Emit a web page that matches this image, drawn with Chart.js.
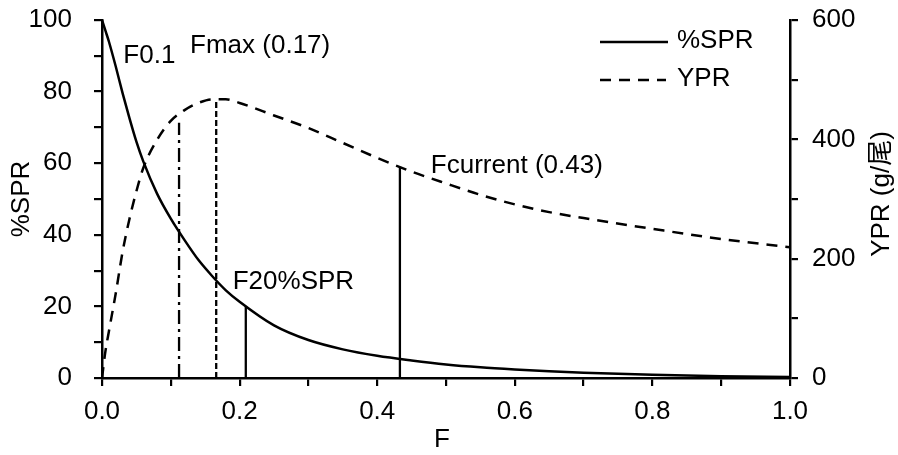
<!DOCTYPE html>
<html>
<head>
<meta charset="utf-8">
<script src="https://cdn.jsdelivr.net/npm/chart.js@4.4.1/dist/chart.umd.min.js"></script>
<style>body{margin:0;background:#fff}canvas{display:block}</style>
</head>
<body>
<canvas id="c" width="898" height="455"></canvas>
<script>
/* DATA */
const fishingF = [0, 0.005, 0.01, 0.02, 0.03, 0.04, 0.05, 0.06, 0.08, 0.10, 0.12, 0.14, 0.16, 0.18, 0.20, 0.25, 0.30, 0.35, 0.40, 0.45, 0.50, 0.55, 0.60, 0.65, 0.70, 0.80, 0.90, 1.00];
const sprValues = [100, 97, 94, 87, 79.5, 72.5, 66, 60.5, 51.5, 44.5, 38.5, 33, 28.5, 24.5, 21.3, 14.7, 10.6, 8.0, 6.2, 4.9, 3.8, 3.0, 2.4, 1.9, 1.5, 0.9, 0.5, 0.3];
const yprValues = [0, 45, 78, 142, 212, 267, 313, 352, 399, 431, 449, 461, 467, 467, 461, 440, 419, 394, 369, 346, 326, 307, 291, 278, 268, 250, 233, 219];

const refNames = ["F0.1", "Fmax", "F20%SPR", "Fcurrent"];
const refF = [0.112, 0.166, 0.209, 0.433];
const refTop = [428, 467, 20, 352];
const refAxis = ["y2", "y2", "y", "y2"];

const noteTexts = ["F0.1", "Fmax (0.17)", "F20%SPR", "Fcurrent (0.43)"];

const xTicks = [0, 0.2, 0.4, 0.6, 0.8, 1.0];
const sprTicks = [0, 20, 40, 60, 80, 100];
const yprTicks = [0, 200, 400, 600];

/* STYLE / PLACEMENT */
const FONT = "Liberation Sans, Arial, Noto Sans CJK SC, sans-serif";
const refDash = [[14, 5, 3, 5], [6, 3], [], []];
const notePos = [[0.031, 90], [0.128, 92.7], [0.19, 26.8], [0.478, 59.2]]; // F, %SPR

Chart.defaults.font.family = FONT;
Chart.defaults.font.size = 26;
Chart.defaults.color = "#000";

const has = (arr, v) => arr.some(t => Math.abs(t - v) < 1e-6);

const datasets = [
 {label: "%SPR", data: fishingF.map((f, i) => ({x: f, y: sprValues[i]})), yAxisID: "y",
  borderColor: "#000", borderWidth: 2.5, pointRadius: 0, cubicInterpolationMode: "monotone", fill: false},
 {label: "YPR", data: fishingF.map((f, i) => ({x: f, y: yprValues[i]})), yAxisID: "y2",
  borderColor: "#000", borderWidth: 2.5, borderDash: [11, 8], pointRadius: 0, cubicInterpolationMode: "monotone", fill: false}
];
refNames.forEach((n, i) => {
 datasets.push({label: n, data: [{x: refF[i], y: 0}, {x: refF[i], y: refTop[i]}], yAxisID: refAxis[i],
  borderColor: "#000", borderWidth: 2.3, borderDash: refDash[i], pointRadius: 0, fill: false});
});

const textPlugin = {
 id: "texts",
 afterDraw(chart) {
  const ctx = chart.ctx, sx = chart.scales.x, sy = chart.scales.y;
  ctx.save();
  ctx.fillStyle = "#000";
  ctx.font = "26px " + FONT;
  ctx.textBaseline = "middle";
  ctx.textAlign = "left";
  // annotations
  noteTexts.forEach((t, i) => {
   ctx.fillText(t, sx.getPixelForValue(notePos[i][0]), sy.getPixelForValue(notePos[i][1]));
  });
  // legend
  [datasets[0], datasets[1]].forEach((d, i) => {
   const y = i === 0 ? 42 : 80;
   ctx.beginPath();
   ctx.setLineDash(d.borderDash || []);
   ctx.lineWidth = 2.5;
   ctx.strokeStyle = "#000";
   ctx.moveTo(600, y);
   ctx.lineTo(i === 0 ? 668 : 666, y);
   ctx.stroke();
   ctx.setLineDash([]);
   ctx.fillText(d.label, 677, y - 1);
  });
  // axis titles
  const midY = (chart.chartArea.top + chart.chartArea.bottom) / 2;
  ctx.textAlign = "center";
  ctx.fillText("F", (chart.chartArea.left + chart.chartArea.right) / 2 - 4, 440);
  ctx.save();
  ctx.translate(22, midY);
  ctx.rotate(-Math.PI / 2);
  ctx.fillText("%SPR", 0, 0);
  ctx.restore();
  ctx.save();
  ctx.translate(882, midY - 5);
  ctx.rotate(-Math.PI / 2);
  ctx.fillText("YPR (g/尾)", 0, 0);
  ctx.restore();
  ctx.restore();
 }
};

const axisGrid = {drawOnChartArea: false, drawTicks: true, tickLength: 8, color: "#000", lineWidth: 2.2};
const axisBorder = {display: true, color: "#000", width: 2.5};
const fixY = w => s => { s.width = w; s.paddingTop = 0; s.paddingBottom = 0; };

new Chart(document.getElementById("c"), {
 type: "line",
 data: {datasets},
 options: {
  responsive: false,
  animation: false,
  layout: {padding: {top: 20}},
  plugins: {legend: {display: false}, tooltip: {enabled: false}},
  scales: {
   x: {type: "linear", min: 0, max: 1,
    ticks: {stepSize: 0.1, autoSkip: false, maxRotation: 0, padding: 10,
     callback: v => has(xTicks, v) ? v.toFixed(1) : ""},
    grid: axisGrid, border: axisBorder,
    afterFit: s => { s.height = 77; }},
   y: {position: "left", min: 0, max: 100,
    ticks: {stepSize: 10, autoSkip: false, padding: 22,
     callback: v => has(sprTicks, v) ? v : ""},
    grid: axisGrid, border: axisBorder,
    afterFit: fixY(102)},
   y2: {position: "right", min: 0, max: 600,
    ticks: {stepSize: 100, autoSkip: false, padding: 14,
     callback: v => has(yprTicks, v) ? v : ""},
    grid: axisGrid, border: axisBorder,
    afterFit: fixY(108)}
  }
 },
 plugins: [textPlugin]
});
</script>
</body>
</html>
